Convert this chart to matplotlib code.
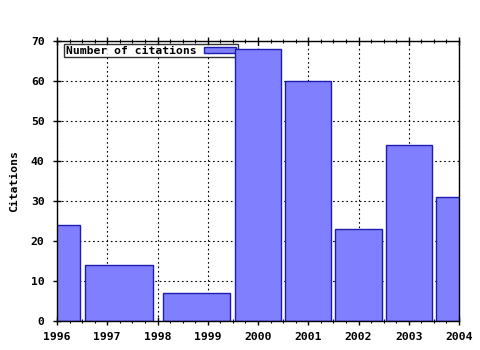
import matplotlib
matplotlib.use("Agg")
import numpy as np
import matplotlib.pyplot as plt
from matplotlib.ticker import MultipleLocator

# Data
citations = [24, 14, 7, 68, 60, 23, 44, 31]
bar_left = [1995.55, 1996.56, 1998.10, 1999.54, 2000.54, 2001.54, 2002.54, 2003.54]
bar_right = [1996.46, 1997.92, 1999.45, 2000.46, 2001.46, 2002.46, 2003.46, 2004.46]
year_ticks = [1996, 1997, 1998, 1999, 2000, 2001, 2002, 2003, 2004]
series_label = "Number of citations"

plt.rcParams["font.family"] = "DejaVu Sans Mono"
plt.rcParams["font.weight"] = "bold"
plt.rcParams["font.size"] = 8.2

fig = plt.figure(figsize=(4.8, 3.5), dpi=100)
ax = fig.add_axes([57 / 480, 1 - 321 / 350, 402 / 480, 280 / 350])

widths = np.array(bar_right) - np.array(bar_left)
ax.bar(bar_left, citations, width=widths, align="edge",
       color="#8080ff", edgecolor="#1c1cb0", linewidth=1.0,
       label=series_label, zorder=2)

ax.set_xlim(1996, 2004)
ax.set_ylim(0, 70)
ax.set_xticks(year_ticks)
ax.set_xticklabels([str(y) for y in year_ticks])
ax.yaxis.set_major_locator(MultipleLocator(10))
ax.xaxis.set_minor_locator(MultipleLocator(0.25))

ax.set_axisbelow(True)
ax.grid(True, color="black", linewidth=0.8, linestyle=(0, (1.5, 2.5)))

for s in ax.spines.values():
    s.set_color("black")
    s.set_linewidth(1.0)

ax.tick_params(axis="x", which="major", direction="inout", length=6, width=1,
               top=True, pad=5)
ax.tick_params(axis="x", which="minor", direction="inout", length=3, width=0.8,
               top=True)
ax.tick_params(axis="y", which="major", direction="inout", length=6, width=1,
               right=False, pad=6)

ax.set_ylabel("Citations", labelpad=8.5, fontweight="bold")

leg = ax.legend(loc="upper left", bbox_to_anchor=(64 / 480, 1 - 44 / 350),
                bbox_transform=fig.transFigure, markerfirst=False,
                frameon=True, fancybox=False, borderpad=0.15,
                borderaxespad=0, handlelength=2.8, handleheight=0.45,
                handletextpad=0.7)
leg.get_frame().set_edgecolor("black")
leg.get_frame().set_linewidth(1.0)
leg.set_zorder(1.5)

fig.savefig("out.png", dpi=100)
